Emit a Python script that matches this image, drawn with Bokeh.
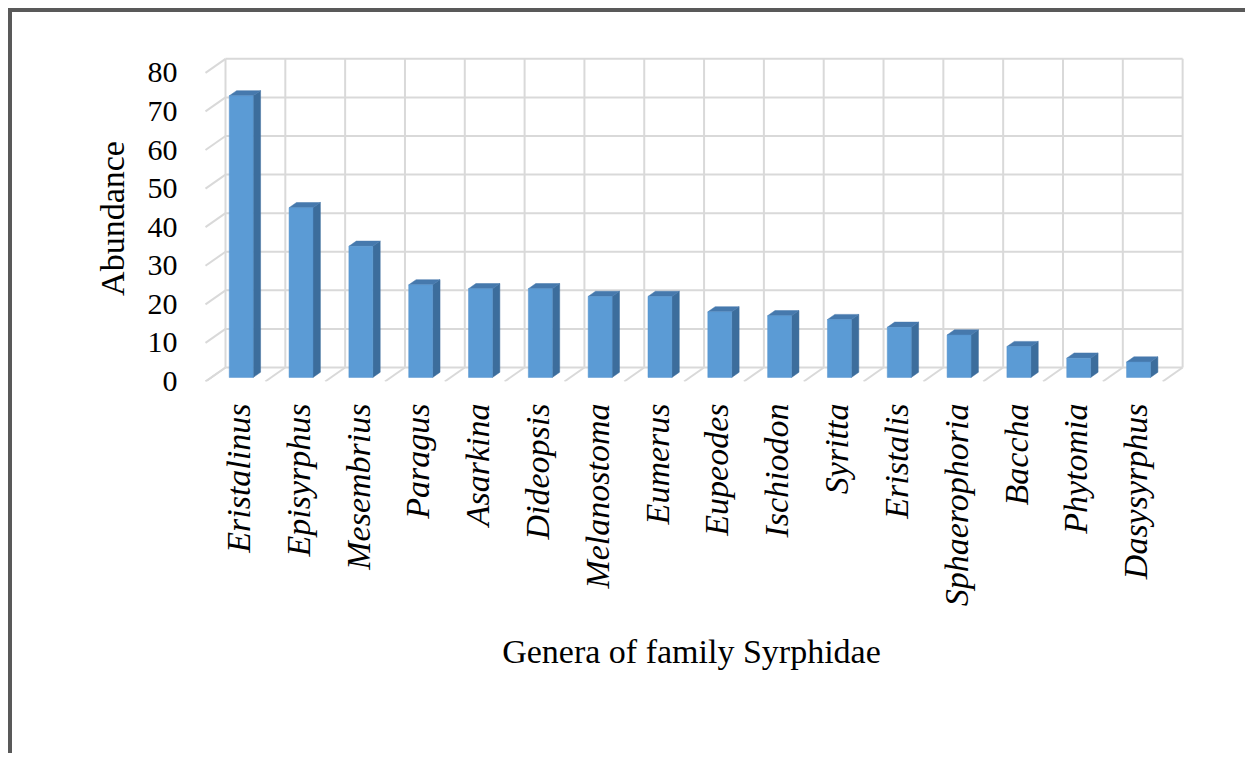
import math
from bokeh.plotting import figure
from bokeh.models import FixedTicker, Range1d
from bokeh.embed import file_html
from bokeh.resources import INLINE

# ---- data ----
genera = ["Eristalinus", "Episyrphus", "Mesembrius", "Paragus", "Asarkina",
          "Dideopsis", "Melanostoma", "Eumerus", "Eupeodes", "Ischiodon",
          "Syritta", "Eristalis", "Sphaerophoria", "Baccha", "Phytomia",
          "Dasysyrphus"]
abundance = [73, 44, 34, 24, 23, 23, 21, 21, 17, 16, 15, 13, 11, 8, 5, 4]
y_ticks = [0, 10, 20, 30, 40, 50, 60, 70, 80]
y_max = 80

# ---- 3D geometry (styling constants, data units) ----
n = len(genera)
X0 = -0.55            # left edge of front floor cell relative to tick
SX = 1002 / 16.75     # px per x unit
SY = 326 / 84.5       # px per y unit
DX = 20 / SX          # depth offset (x) from front plane to back wall
DY = 14 / SY          # depth offset (y)
FO = 0.29             # depth fraction of bar front face (0 = front plane)
DD = 0.37             # bar depth fraction
BW = 0.4              # bar width fraction of a cell
GRID = "#D9D9D9"
FRONT = "#5B9BD5"
SIDE = "#3C6D9C"
TOP = "#4679AD"
FONT = "Liberation Serif"

p = figure(width=1237, height=745, output_backend="svg", toolbar_location=None,
           x_range=Range1d(X0 - 15 / SX, X0 - 15 / SX + 16.75),
           y_range=Range1d(0, 84.5),
           min_border_left=178, min_border_right=57,
           min_border_top=43, min_border_bottom=376)
p.styles = {"margin-top": "8px", "margin-left": "8px",
            "border-top": "4px solid #595959", "border-left": "4px solid #595959"}
p.outline_line_color = None
p.background_fill_color = "white"
p.border_fill_color = "white"
p.xgrid.visible = False
p.ygrid.visible = False

# back wall grid
vx0, vx1, vy0, vy1 = [], [], [], []
for k in range(n + 1):
    vx0.append(X0 + k + DX); vx1.append(X0 + k + DX)
    vy0.append(DY); vy1.append(y_max + DY)
for t in y_ticks:
    vx0.append(X0 + DX); vx1.append(X0 + n + DX)
    vy0.append(t + DY); vy1.append(t + DY)
p.segment(vx0, vy0, vx1, vy1, line_color=GRID, line_width=2)

# left wall (depth lines)
p.segment([X0] * len(y_ticks), y_ticks, [X0 + DX] * len(y_ticks),
          [t + DY for t in y_ticks], line_color=GRID, line_width=2)
# floor depth lines
fx = [X0 + k for k in range(n + 1)]
p.segment(fx, [0] * (n + 1), [x + DX for x in fx], [DY] * (n + 1),
          line_color=GRID, line_width=2)

# bars
left = [X0 + i + (1 - BW) / 2 + FO * DX for i in range(n)]
right = [l + BW for l in left]
bottom = [FO * DY] * n
top = [v + FO * DY for v in abundance]
ddx, ddy = DD * DX, DD * DY
side_xs = [[r, r + ddx, r + ddx, r] for r in right]
side_ys = [[b, b + ddy, t + ddy, t] for b, t in zip(bottom, top)]
top_xs = [[l, r, r + ddx, l + ddx] for l, r in zip(left, right)]
top_ys = [[t, t, t + ddy, t + ddy] for t in top]

p.patches(side_xs, side_ys, fill_color=SIDE, line_color=SIDE, line_width=0.5)
p.patches(top_xs, top_ys, fill_color=TOP, line_color=TOP, line_width=0.5)
p.quad(left=left, right=right, bottom=bottom, top=top,
       fill_color=FRONT, line_color="#5592CC", line_width=0.5)

# axes
p.yaxis.ticker = FixedTicker(ticks=y_ticks)
p.yaxis.axis_line_color = None
p.yaxis.major_tick_line_color = None
p.yaxis.minor_tick_line_color = None
p.yaxis.major_tick_out = 0
p.yaxis.major_tick_in = 0
p.yaxis.minor_tick_out = 0
p.yaxis.major_label_standoff = 13
p.yaxis.major_label_text_font = FONT
p.yaxis.major_label_text_font_size = "30px"
p.yaxis.major_label_text_color = "black"
p.yaxis.axis_label = "Abundance"
p.yaxis.axis_label_text_font = FONT
p.yaxis.axis_label_text_font_style = "normal"
p.yaxis.axis_label_text_font_size = "34px"
p.yaxis.axis_label_text_color = "black"
p.yaxis.axis_label_standoff = 14

xt = list(range(n))
p.xaxis.ticker = FixedTicker(ticks=xt)
p.xaxis.major_label_overrides = {i: g for i, g in zip(xt, genera)}
p.xaxis.major_label_orientation = math.pi / 2
p.xaxis.axis_line_color = None
p.xaxis.major_tick_line_color = None
p.xaxis.minor_tick_line_color = None
p.xaxis.major_tick_out = 0
p.xaxis.major_tick_in = 0
p.xaxis.minor_tick_out = 0
p.xaxis.major_label_standoff = 22
p.xaxis.major_label_text_font = FONT
p.xaxis.major_label_text_font_style = "italic"
p.xaxis.major_label_text_font_size = "34px"
p.xaxis.major_label_text_color = "black"
p.xaxis.axis_label = "Genera of family Syrphidae"
p.xaxis.axis_label_text_font = FONT
p.xaxis.axis_label_text_font_style = "normal"
p.xaxis.axis_label_text_font_size = "34px"
p.xaxis.axis_label_text_color = "black"
p.xaxis.axis_label_standoff = 24

open("out.html", "w").write(file_html(p, INLINE))
